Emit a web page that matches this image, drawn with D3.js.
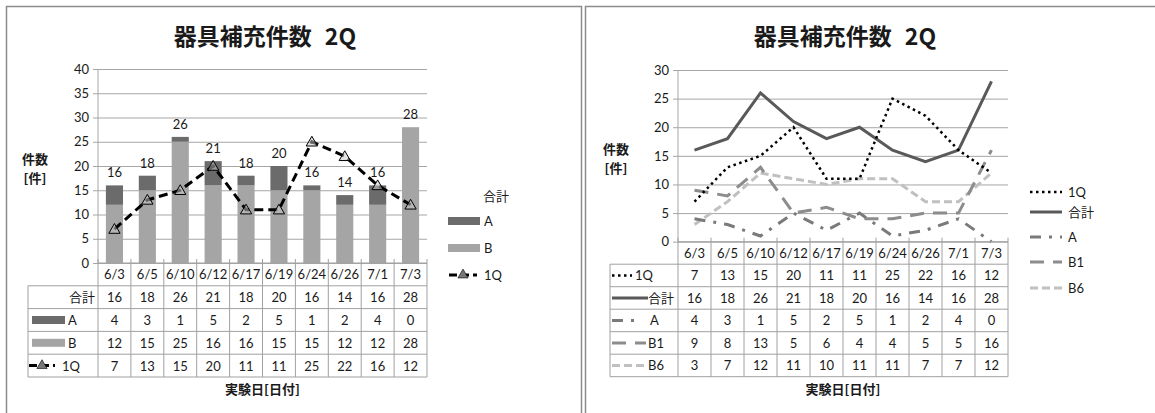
<!DOCTYPE html>
<html>
<head>
<meta charset="utf-8">
<script src="https://cdn.jsdelivr.net/npm/d3@7/dist/d3.min.js"></script>
<style>
  html, body { margin: 0; padding: 0; background: #fff; }
  svg { display: block; }
  text { font-family: Lato, "Noto Sans CJK JP", sans-serif; fill: #1a1a1a; }
  .jp { font-family: "Noto Sans CJK JP", sans-serif; }
</style>
</head>
<body>
<svg id="chart" width="1155" height="413"></svg>
<script>
// ---- data ----
const categories = ["6/3", "6/5", "6/10", "6/12", "6/17", "6/19", "6/24", "6/26", "7/1", "7/3"];
const totals   = [16, 18, 26, 21, 18, 20, 16, 14, 16, 28];
const seriesA  = [4, 3, 1, 5, 2, 5, 1, 2, 4, 0];
const seriesB  = [12, 15, 25, 16, 16, 15, 15, 12, 12, 28];
const series1Q = [7, 13, 15, 20, 11, 11, 25, 22, 16, 12];
const seriesB1 = [9, 8, 13, 5, 6, 4, 4, 5, 5, 16];
const seriesB6 = [3, 7, 12, 11, 10, 11, 11, 7, 7, 12];
const leftTicks  = [0, 5, 10, 15, 20, 25, 30, 35, 40];
const rightTicks = [0, 5, 10, 15, 20, 25, 30];

const titleMain = "器具補充件数";
const titleSuffix = "2Q";
const xTitle = "実験日[日付]";

const svg = d3.select("#chart");
const gridColor = "#a6a6a6";
const tableColor = "#a0a0a0";
const darkGray = "#6b6b6b";
const lightGray = "#a5a5a5";

// chart frames
svg.append("rect").attr("x", 6.5).attr("y", 6.5).attr("width", 575).attr("height", 420)
  .attr("fill", "none").attr("stroke", "#8c8c8c").attr("stroke-width", 1.5);
svg.append("rect").attr("x", 585.5).attr("y", 6.5).attr("width", 600).attr("height", 420)
  .attr("fill", "none").attr("stroke", "#8c8c8c").attr("stroke-width", 1.5);

function drawTitles(g, cx, plotCx, yTitleX, yTitleY) {
  const t = g.append("text").attr("class", "jp").attr("x", cx).attr("y", 35)
    .attr("text-anchor", "middle").attr("dominant-baseline", "central")
    .attr("font-size", 23).attr("font-weight", 700);
  t.append("tspan").text(titleMain);
  t.append("tspan").attr("dx", 13).text(titleSuffix);
  g.append("text").attr("class", "jp").attr("x", plotCx).attr("y", 388)
    .attr("text-anchor", "middle").attr("dominant-baseline", "central")
    .attr("font-size", 13).attr("font-weight", 700).text(xTitle);
  g.append("text").attr("class", "jp").attr("x", yTitleX).attr("y", yTitleY)
    .attr("text-anchor", "middle").attr("dominant-baseline", "central")
    .attr("font-size", 13).attr("font-weight", 700).text("件数");
  g.append("text").attr("class", "jp").attr("x", yTitleX).attr("y", yTitleY + 19)
    .attr("text-anchor", "middle").attr("dominant-baseline", "central")
    .attr("font-size", 13).attr("font-weight", 700).text("[件]");
}

function drawGrid(g, y, ticks, x0, x1) {
  g.append("g").attr("transform", `translate(${x0},0)`)
    .call(d3.axisLeft(y).tickValues(ticks).tickSize(-(x1 - x0)).tickPadding(9))
    .call(a => a.select(".domain").remove())
    .call(a => a.selectAll(".tick line").attr("stroke", gridColor).attr("x2", x1 - x0).attr("x1", -5))
    .call(a => a.selectAll(".tick text").attr("font-size", 13).attr("fill", "#1a1a1a")
      .attr("font-family", "Lato, sans-serif"));
  g.append("line").attr("x1", x0).attr("x2", x0).attr("y1", y.range()[1]).attr("y2", y.range()[0])
    .attr("stroke", gridColor);
}

// data table below the plot: one header row of categories, then rows of values
function drawTable(g, x, top, rowH, headerLeft, rows) {
  const x0 = x.range()[0], x1 = x.range()[1];
  const step = x.step();
  const nRows = rows.length + 1;
  const bottom = top + nRows * rowH;
  categories.forEach((c, i) => {
    g.append("text").attr("x", x0 + step * (i + 0.5)).attr("y", top + rowH / 2)
      .attr("text-anchor", "middle").attr("dominant-baseline", "central").attr("font-size", 13).text(c);
  });
  rows.forEach((r, ri) => {
    const cy = top + (ri + 1.5) * rowH;
    r.values.forEach((v, i) => {
      g.append("text").attr("x", x0 + step * (i + 0.5)).attr("y", cy)
        .attr("text-anchor", "middle").attr("dominant-baseline", "central").attr("font-size", 13).text(v);
    });
    r.header(g, headerLeft, cy);
  });
  for (let k = 0; k <= nRows; k++) {
    const yy = top + k * rowH;
    g.append("line").attr("x1", k >= 1 ? headerLeft : x0).attr("x2", x1).attr("y1", yy).attr("y2", yy)
      .attr("stroke", tableColor);
  }
  for (let i = 0; i <= categories.length; i++) {
    const xx = x0 + step * i;
    g.append("line").attr("x1", xx).attr("x2", xx).attr("y1", top - 4).attr("y2", bottom)
      .attr("stroke", tableColor);
  }
  g.append("line").attr("x1", headerLeft).attr("x2", headerLeft).attr("y1", top + rowH).attr("y2", bottom)
    .attr("stroke", tableColor);
}

// ================= left chart: stacked bars + 1Q line =================
(function () {
  const g = svg.append("g");
  const X0 = 98, X1 = 427;
  const y = d3.scaleLinear().domain([0, 40]).range([263, 69]);
  const band = d3.scaleBand().domain(categories).range([X0, X1]).paddingInner(0.48).paddingOuter(0.24);
  const cols = d3.scaleBand().domain(categories).range([X0, X1]);

  drawTitles(g, 265, (X0 + X1) / 2, 35, 158);
  drawGrid(g, y, leftTicks, X0, X1);

  const rowsData = categories.map((c, i) => ({ cat: c, B: seriesB[i], A: seriesA[i] }));
  const stack = d3.stack().keys(["B", "A"])(rowsData);
  const fills = { B: lightGray, A: darkGray };
  stack.forEach(layer => {
    g.append("g").selectAll("rect").data(layer).join("rect")
      .attr("x", d => band(d.data.cat)).attr("width", band.bandwidth())
      .attr("y", d => y(d[1])).attr("height", d => y(d[0]) - y(d[1]))
      .attr("fill", fills[layer.key]);
  });

  // total labels above each stack
  g.append("g").selectAll("text").data(totals).join("text")
    .attr("x", (d, i) => band(categories[i]) + band.bandwidth() / 2)
    .attr("y", d => y(d) - 13).attr("text-anchor", "middle").attr("dominant-baseline", "central")
    .attr("font-size", 13).text(d => d);

  // 1Q dashed line with triangle markers
  const line = d3.line().x((d, i) => cols(categories[i]) + cols.bandwidth() / 2).y(d => y(d));
  g.append("path").datum(series1Q).attr("d", line).attr("fill", "none")
    .attr("stroke", "#000").attr("stroke-width", 3).attr("stroke-dasharray", "9,5");
  const tri = d3.symbol().type(d3.symbolTriangle).size(55);
  g.append("g").selectAll("path").data(series1Q).join("path")
    .attr("d", tri)
    .attr("transform", (d, i) => `translate(${cols(categories[i]) + cols.bandwidth() / 2},${y(d) + 1})`)
    .attr("fill", "rgba(200,200,200,0.5)").attr("stroke", "#000").attr("stroke-width", 1);

  const swatch = (color) => (gg, x, cy) => {
    gg.append("rect").attr("x", x + 4).attr("y", cy - 4).attr("width", 33).attr("height", 8).attr("fill", color);
  };
  const lineKey = (gg, x, cy, w) => {
    gg.append("line").attr("x1", x).attr("x2", x + w).attr("y1", cy).attr("y2", cy)
      .attr("stroke", "#000").attr("stroke-width", 3).attr("stroke-dasharray", "8,4");
    gg.append("path").attr("d", d3.symbol().type(d3.symbolTriangle).size(45))
      .attr("transform", `translate(${x + w / 2},${cy})`).attr("fill", "#777").attr("stroke", "#000").attr("stroke-width", 0.6);
  };

  drawTable(g, cols, 263, 22.8, 28, [
    { values: totals, header: (gg, x, cy) => gg.append("text").attr("x", 95).attr("y", cy)
        .attr("text-anchor", "end").attr("dominant-baseline", "central").attr("font-size", 13).text("合計") },
    { values: seriesA, header: (gg, x, cy) => { swatch(darkGray)(gg, x, cy);
        gg.append("text").attr("x", x + 40).attr("y", cy).attr("dominant-baseline", "central").attr("font-size", 13).text("A"); } },
    { values: seriesB, header: (gg, x, cy) => { swatch(lightGray)(gg, x, cy);
        gg.append("text").attr("x", x + 40).attr("y", cy).attr("dominant-baseline", "central").attr("font-size", 13).text("B"); } },
    { values: series1Q, header: (gg, x, cy) => { lineKey(gg, x + 1, cy, 26);
        gg.append("text").attr("x", x + 34).attr("y", cy).attr("dominant-baseline", "central").attr("font-size", 13).text("1Q"); } }
  ]);

  // legend
  const lg = g.append("g");
  lg.append("text").attr("x", 483).attr("y", 196).attr("dominant-baseline", "central").attr("font-size", 13).text("合計");
  lg.append("rect").attr("x", 448).attr("y", 217).attr("width", 32).attr("height", 8).attr("fill", darkGray);
  lg.append("text").attr("x", 484).attr("y", 221).attr("dominant-baseline", "central").attr("font-size", 13).text("A");
  lg.append("rect").attr("x", 448).attr("y", 244).attr("width", 32).attr("height", 8).attr("fill", lightGray);
  lg.append("text").attr("x", 484).attr("y", 248).attr("dominant-baseline", "central").attr("font-size", 13).text("B");
  lineKey(lg, 449, 275, 28);
  lg.append("text").attr("x", 484).attr("y", 275).attr("dominant-baseline", "central").attr("font-size", 13).text("1Q");
})();

// ================= right chart: lines per series =================
(function () {
  const g = svg.append("g");
  const X0 = 678, X1 = 1008;
  const y = d3.scaleLinear().domain([0, 30]).range([241.7, 70]);
  const cols = d3.scaleBand().domain(categories).range([X0, X1]);

  drawTitles(g, 845, (X0 + X1) / 2, 616, 148);
  drawGrid(g, y, rightTicks, X0, X1);

  const styles = [
    { name: "1Q",  values: series1Q, color: "#000",    width: 2.5, dash: "2.5,3.5" },
    { name: "合計", values: totals,  color: "#595959", width: 3,   dash: null },
    { name: "A",   values: seriesA,  color: "#7a7a7a", width: 3,   dash: "11,8,3,8" },
    { name: "B1",  values: seriesB1, color: "#8c8c8c", width: 3,   dash: "14,9" },
    { name: "B6",  values: seriesB6, color: "#c0c0c0", width: 3,   dash: "8,4" }
  ];
  const line = d3.line().x((d, i) => cols(categories[i]) + cols.bandwidth() / 2).y(d => y(d));
  // draw lighter series first so the totals and 1Q sit on top
  [...styles].reverse().forEach(s => {
    g.append("path").datum(s.values).attr("d", line).attr("fill", "none")
      .attr("stroke", s.color).attr("stroke-width", s.width)
      .attr("stroke-dasharray", s.dash);
  });

  const key = (s, gg, x, cy, w) => gg.append("line").attr("x1", x).attr("x2", x + w).attr("y1", cy).attr("y2", cy)
    .attr("stroke", s.color).attr("stroke-width", s.width).attr("stroke-dasharray", s.dash);

  const keyW = { "1Q": 20, "合計": 36, "A": 30, "B1": 34, "B6": 34 };
  const textX = { "1Q": 635, "合計": 648, "A": 650, "B1": 648, "B6": 648 };
  drawTable(g, cols, 241.7, 22.5, 610, styles.map(s => ({
    values: s.values,
    header: (gg, x, cy) => { key(s, gg, x + 2, cy, keyW[s.name]);
      gg.append("text").attr("x", textX[s.name]).attr("y", cy).attr("dominant-baseline", "central").attr("font-size", 13).text(s.name); }
  })));

  // legend
  const ly = [192, 212, 237, 262, 288];
  styles.forEach((s, i) => {
    key(s, g, 1030, ly[i], 32);
    g.append("text").attr("x", 1068).attr("y", ly[i]).attr("dominant-baseline", "central").attr("font-size", 13).text(s.name);
  });
})();
</script>
</body>
</html>
